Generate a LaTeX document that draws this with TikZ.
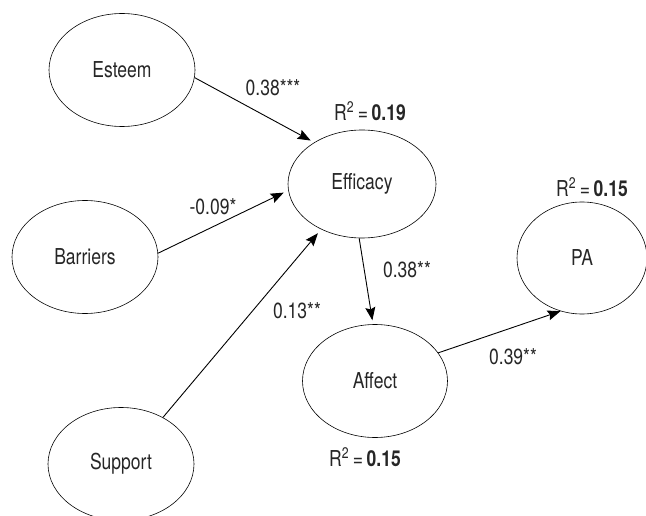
\documentclass[tikz,border=0pt]{standalone}
\usepackage{fontspec}
\setmainfont{TeX Gyre Heros}[FakeStretch=0.8]
\usetikzlibrary{shapes.geometric,arrows.meta}

\begin{document}
\begin{tikzpicture}[x=1bp, y=-1bp,
    every node/.style={font=\fontsize{22}{26}\selectfont, text=black!85},
    latent/.style={ellipse, draw=black, line width=0.6pt, inner sep=0pt,
        minimum width=146bp, minimum height=113bp},
    path/.style={-{Stealth[length=13bp,width=10bp,inset=2bp]}, line width=0.9pt},
    coef/.style={inner sep=0pt},
    rsq/.style={inner sep=0pt}]
    \useasboundingbox (0,0) rectangle (646,516);

    % Variabili latenti
    \node[latent] (esteem) at (122,70) {Esteem};
    \node[latent] (barriers) at (85,257) {Barriers};
    \node[latent] (support) at (121,464) {Support};
    \node[latent, minimum width=148bp, minimum height=108bp] (efficacy) at (362,184) {Efficacy};
    \node[latent, minimum width=145bp, minimum height=113bp] (affect) at (375,381) {Affect};
    \node[latent, minimum width=130bp, minimum height=112bp] (pa) at (582,258) {PA};

    % Percorsi
    \draw[path, shorten >=4bp] (esteem.-6) -- (efficacy.139);
    \draw[path, shorten >=5bp] (barriers.3) -- (efficacy.185);
    \draw[path, shorten >=5bp] (support.48) -- (efficacy.228);
    \draw[path, shorten >=4bp] (efficacy.267) -- (affect.92);
    \draw[path] (affect.24) -- (pa.248);

    % Coefficienti
    \node[coef] (c1) at (273,88) {0.38***};
    \node[coef] (c2) at (213,207) {-0.09*};
    \node[coef] (c3) at (297,311) {0.13**};
    \node[coef] (c4) at (407,270) {0.38**};
    \node[coef] (c5) at (513,357) {0.39**};

    % Varianza spiegata
    \node[rsq] (r1) at (370,111) {R\textsuperscript{2}\,=\,\textbf{0.19}};
    \node[rsq] (r2) at (592,187) {R\textsuperscript{2}\,=\,\textbf{0.15}};
    \node[rsq] (r3) at (365,457) {R\textsuperscript{2}\,=\,\textbf{0.15}};
\end{tikzpicture}
\end{document}
